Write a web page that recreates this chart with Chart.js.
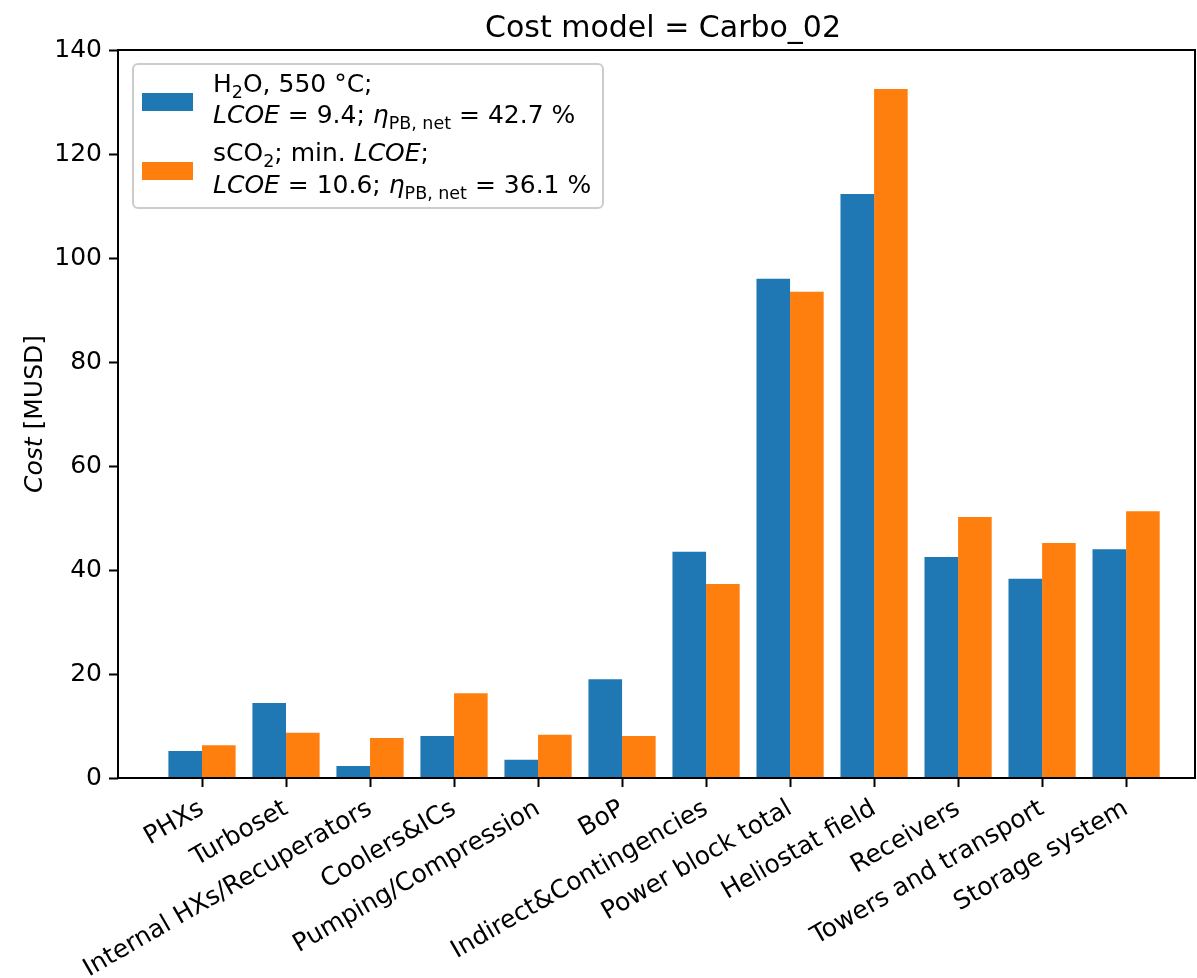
<!DOCTYPE html>
<html>
<head>
<meta charset="utf-8">
<title>Cost model = Carbo_02</title>
<script src="https://cdn.jsdelivr.net/npm/chart.js@4.4.0/dist/chart.umd.min.js"></script>
<style>
  html, body { margin: 0; padding: 0; background: #ffffff; }
  #wrap { width: 1197px; height: 978px; }
</style>
</head>
<body>
<div id="wrap"><canvas id="costChart" width="1197" height="978"></canvas></div>
<script>
// Cost breakdown per component [MUSD]
const categories = [
    'PHXs', 'Turboset', 'Internal HXs/Recuperators', 'Coolers&ICs',
    'Pumping/Compression', 'BoP', 'Indirect&Contingencies', 'Power block total',
    'Heliostat field', 'Receivers', 'Towers and transport', 'Storage system'
];
const h2oCosts  = [5.2, 14.4, 2.3, 8.1, 3.5, 19.0, 43.5, 96.0, 112.3, 42.5, 38.3, 44.0];
const sco2Costs = [6.3, 8.7, 7.7, 16.3, 8.3, 8.1, 37.3, 93.5, 132.5, 50.2, 45.2, 51.3];
const yTicks = [0, 20, 40, 60, 80, 100, 120, 140];

const chartTitle = 'Cost model = Carbo_02';
const seriesColors = ['#1f77b4', '#ff7f0e'];

// legend labels, two lines per series, split into styled runs
const h2oLabel = [
    [{ text: 'H' }, { text: '2', sub: true }, { text: 'O, 550 °C;' }],
    [{ text: 'LCOE', italic: true }, { text: ' = 9.4; ' }, { text: 'η', italic: true },
     { text: 'PB, net', sub: true }, { text: ' = 42.7 %' }]
];
const sco2Label = [
    [{ text: 'sCO' }, { text: '2', sub: true }, { text: '; min. ' }, { text: 'LCOE', italic: true }, { text: ';' }],
    [{ text: 'LCOE', italic: true }, { text: ' = 10.6; ' }, { text: 'η', italic: true },
     { text: 'PB, net', sub: true }, { text: ' = 36.1 %' }]
];
const yAxisLabel = [{ text: 'Cost', italic: true }, { text: ' [MUSD]' }];

const FONT = '"DejaVu Sans", "Liberation Sans", sans-serif';
const FONT_SIZE = 25;

function drawRuns(ctx, runs, x, y, size) {
    runs.forEach(run => {
        const s = run.sub ? size * 0.7 : size;
        ctx.font = `${run.italic ? 'italic ' : ''}${s}px ${FONT}`;
        ctx.fillText(run.text, x, y + (run.sub ? size * 0.22 : 0));
        x += ctx.measureText(run.text).width;
    });
}

function runsWidth(ctx, runs, size) {
    let w = 0;
    runs.forEach(run => {
        const s = run.sub ? size * 0.7 : size;
        ctx.font = `${run.italic ? 'italic ' : ''}${s}px ${FONT}`;
        w += ctx.measureText(run.text).width;
    });
    return w;
}

// spines, title, y label and the mathtext-style legend
const decorations = {
    id: 'decorations',
    afterDraw(chart) {
        const ctx = chart.ctx;
        const area = chart.chartArea;
        ctx.save();

        ctx.strokeStyle = '#000000';
        ctx.lineWidth = 2;
        ctx.strokeRect(area.left, area.top, area.right - area.left, area.bottom - area.top);

        ctx.fillStyle = '#000000';
        ctx.textAlign = 'center';
        ctx.textBaseline = 'alphabetic';
        ctx.font = `30px ${FONT}`;
        ctx.fillText(chartTitle, 663, 37);

        // y axis label, rotated
        ctx.save();
        ctx.translate(42, (area.top + area.bottom) / 2);
        ctx.rotate(-Math.PI / 2);
        ctx.textAlign = 'left';
        const w = runsWidth(ctx, yAxisLabel, FONT_SIZE);
        drawRuns(ctx, yAxisLabel, -w / 2, 0, FONT_SIZE);
        ctx.restore();

        // legend frame
        ctx.beginPath();
        ctx.roundRect(133, 64, 470, 144, 5);
        ctx.fillStyle = 'rgba(255,255,255,0.8)';
        ctx.fill();
        ctx.strokeStyle = '#cccccc';
        ctx.lineWidth = 2;
        ctx.stroke();

        ctx.fillStyle = seriesColors[0];
        ctx.fillRect(142, 93, 51, 18);
        ctx.fillStyle = seriesColors[1];
        ctx.fillRect(142, 162, 51, 18);

        ctx.fillStyle = '#000000';
        ctx.textAlign = 'left';
        drawRuns(ctx, h2oLabel[0], 213, 92, FONT_SIZE);
        drawRuns(ctx, h2oLabel[1], 213, 123, FONT_SIZE);
        drawRuns(ctx, sco2Label[0], 213, 161, FONT_SIZE);
        drawRuns(ctx, sco2Label[1], 213, 193, FONT_SIZE);

        ctx.restore();
    }
};

const ctx = document.getElementById('costChart').getContext('2d');
new Chart(ctx, {
    type: 'bar',
    data: {
        datasets: [
            {
                label: 'H2O, 550 °C',
                data: h2oCosts.map((v, i) => ({ x: i, y: v })),
                backgroundColor: seriesColors[0],
                borderWidth: 0,
                categoryPercentage: 0.8,
                barPercentage: 1.0
            },
            {
                label: 'sCO2; min. LCOE',
                data: sco2Costs.map((v, i) => ({ x: i, y: v })),
                backgroundColor: seriesColors[1],
                borderWidth: 0,
                categoryPercentage: 0.8,
                barPercentage: 1.0
            }
        ]
    },
    options: {
        responsive: false,
        animation: false,
        layout: { padding: { top: 50, right: 2, left: 0, bottom: 0 } },
        plugins: {
            legend: { display: false },
            title: { display: false },
            tooltip: { enabled: false }
        },
        scales: {
            x: {
                type: 'linear',
                min: -1.0,
                max: 11.82,
                offset: false,
                afterBuildTicks: scale => {
                    scale.ticks = categories.map((c, i) => ({ value: i }));
                },
                afterFit: scale => { scale.height = 200; },
                grid: {
                    offset: false,
                    drawOnChartArea: false,
                    drawTicks: true,
                    tickLength: 9,
                    tickWidth: 2,
                    tickColor: '#000000'
                },
                border: { display: false },
                ticks: {
                    autoSkip: false,
                    minRotation: 30,
                    maxRotation: 30,
                    padding: 7,
                    color: '#000000',
                    font: { family: FONT, size: FONT_SIZE },
                    callback: value => categories[value] ?? ''
                }
            },
            y: {
                min: 0,
                max: 140,
                afterBuildTicks: scale => {
                    scale.ticks = yTicks.map(v => ({ value: v }));
                },
                afterFit: scale => { scale.width = 118; },
                grid: {
                    drawOnChartArea: false,
                    drawTicks: true,
                    tickLength: 9,
                    tickWidth: 2,
                    tickColor: '#000000'
                },
                border: { display: false },
                ticks: {
                    padding: 7,
                    color: '#000000',
                    font: { family: FONT, size: FONT_SIZE }
                }
            }
        }
    },
    plugins: [decorations]
});
</script>
</body>
</html>
